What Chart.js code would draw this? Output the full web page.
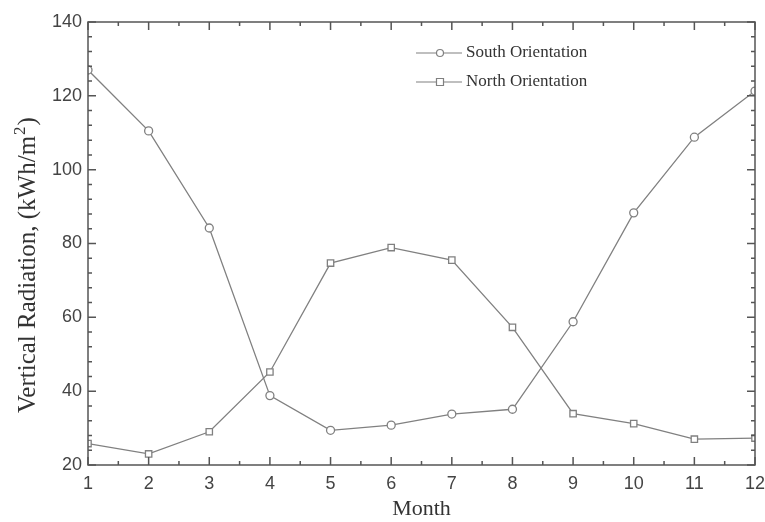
<!DOCTYPE html>
<html>
<head>
<meta charset="utf-8">
<script src="https://cdn.jsdelivr.net/npm/chart.js@4"></script>
<style>
  html, body { margin: 0; padding: 0; background: #fff; }
  #wrap { width: 765px; height: 522px; }
</style>
</head>
<body>
<div id="wrap"><canvas id="myChart" width="765" height="522"></canvas></div>
<script>
let months = [1, 2, 3, 4, 5, 6, 7, 8, 9, 10, 11, 12];
let south = [127, 110.5, 84.2, 38.8, 29.4, 30.8, 33.8, 35.1, 58.8, 88.3, 108.8, 121.3];
let north = [25.8, 23, 29, 45.2, 74.7, 78.9, 75.5, 57.3, 33.9, 31.2, 27, 27.3];
let yTicks = [20, 40, 60, 80, 100, 120, 140];

const lineColor = "#808080";
const axisColor = "#555";
const serif = "'Liberation Serif', 'Times New Roman', serif";

// frame, inner ticks on all four sides, y title and legend
const frame = {
  id: "frame",
  afterDraw(chart) {
    const ctx = chart.ctx;
    const a = chart.chartArea;
    const xs = chart.scales.x;
    const ys = chart.scales.y;
    ctx.save();
    ctx.strokeStyle = axisColor;
    ctx.lineWidth = 1.5;
    ctx.strokeRect(a.left, a.top, a.right - a.left, a.bottom - a.top);
    ctx.beginPath();
    for (let m = 1; m <= 12; m += 0.5) {
      const px = xs.getPixelForValue(m);
      const len = Number.isInteger(m) ? 8 : 4;
      ctx.moveTo(px, a.bottom); ctx.lineTo(px, a.bottom - len);
      ctx.moveTo(px, a.top); ctx.lineTo(px, a.top + len);
    }
    for (let v = 20; v <= 140; v += 4) {
      const py = ys.getPixelForValue(v);
      const len = (v - 20) % 20 === 0 ? 8 : 4;
      ctx.moveTo(a.left, py); ctx.lineTo(a.left + len, py);
      ctx.moveTo(a.right, py); ctx.lineTo(a.right - len, py);
    }
    ctx.stroke();

    // y axis title with superscript
    ctx.save();
    ctx.translate(35, 266);
    ctx.rotate(-Math.PI / 2);
    ctx.fillStyle = "#333";
    ctx.textBaseline = "alphabetic";
    const big = "25px " + serif, small = "17px " + serif;
    const p1 = "Vertical Radiation, (kWh/m", p2 = "2", p3 = ")";
    ctx.font = big; const w1 = ctx.measureText(p1).width, w3 = ctx.measureText(p3).width;
    ctx.font = small; const w2 = ctx.measureText(p2).width;
    let x0 = -(w1 + w2 + w3) / 2;
    ctx.font = big; ctx.fillText(p1, x0, 0);
    ctx.font = small; ctx.fillText(p2, x0 + w1 + 1, -10);
    ctx.font = big; ctx.fillText(p3, x0 + w1 + w2 + 2, 0);
    ctx.restore();

    // legend
    const items = [
      { text: "South Orientation", style: "circle", y: 53 },
      { text: "North Orientation", style: "rect", y: 82 },
    ];
    ctx.font = "17px " + serif;
    ctx.textBaseline = "middle";
    items.forEach((it) => {
      ctx.strokeStyle = lineColor;
      ctx.lineWidth = 1.2;
      ctx.beginPath();
      ctx.moveTo(416, it.y); ctx.lineTo(462, it.y);
      ctx.stroke();
      ctx.fillStyle = "#fff";
      ctx.beginPath();
      if (it.style === "circle") ctx.arc(440, it.y, 3.5, 0, Math.PI * 2);
      else ctx.rect(436.5, it.y - 3.5, 7, 7);
      ctx.fill();
      ctx.stroke();
      ctx.fillStyle = "#333";
      ctx.fillText(it.text, 466, it.y);
    });
    ctx.restore();
  },
};

const data = {
  datasets: [
    {
      label: "South Orientation",
      data: south.map((v, i) => ({ x: months[i], y: v })),
      borderColor: lineColor,
      borderWidth: 1.3,
      pointStyle: "circle",
      pointRadius: 4,
      pointBackgroundColor: "#fff",
      pointBorderColor: lineColor,
      pointBorderWidth: 1.3,
      tension: 0,
    },
    {
      label: "North Orientation",
      data: north.map((v, i) => ({ x: months[i], y: v })),
      borderColor: lineColor,
      borderWidth: 1.3,
      pointStyle: "rect",
      pointRadius: 4.5,
      pointBackgroundColor: "#fff",
      pointBorderColor: lineColor,
      pointBorderWidth: 1.3,
      tension: 0,
    },
  ],
};

const config = {
  type: "line",
  data: data,
  options: {
    responsive: false,
    maintainAspectRatio: false,
    animation: false,
    layout: { padding: { top: 22, right: 0, left: 0, bottom: 0 } },
    plugins: {
      legend: { display: false },
      tooltip: { enabled: false },
    },
    scales: {
      x: {
        type: "linear",
        min: 1,
        max: 12,
        grid: { display: false, drawTicks: false },
        border: { display: false },
        ticks: {
          stepSize: 1,
          padding: 8,
          color: "#444",
          font: { family: "'Liberation Sans', Arial, sans-serif", size: 18 },
        },
        title: {
          display: true,
          text: "Month",
          color: "#333",
          padding: { top: 0, bottom: 0 },
          font: { family: serif, size: 22 },
        },
        afterFit: (s) => { s.height = 57; s.paddingRight = 10; },
      },
      y: {
        min: 20,
        max: 140,
        grid: { display: false, drawTicks: false },
        border: { display: false },
        afterBuildTicks: (s) => { s.ticks = yTicks.map((v) => ({ value: v })); },
        ticks: {
          padding: 6,
          color: "#444",
          font: { family: "'Liberation Sans', Arial, sans-serif", size: 18 },
        },
        afterFit: (s) => { s.width = 88; },
      },
    },
  },
  plugins: [frame],
};
var myChart = new Chart(document.getElementById("myChart"), config);
</script>
</body>
</html>
